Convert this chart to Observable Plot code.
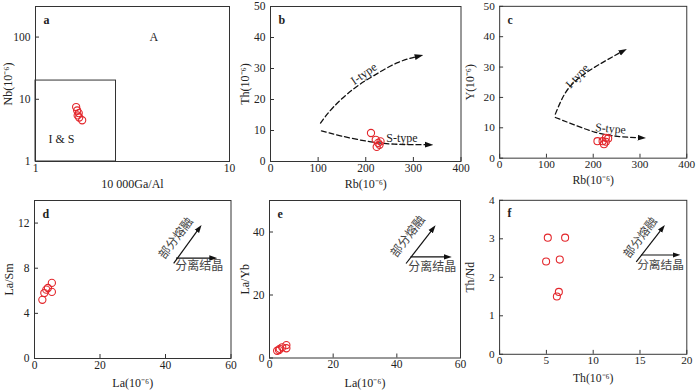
<!DOCTYPE html>
<html><head><meta charset="utf-8">
<script src="https://cdn.jsdelivr.net/npm/d3@7"></script>
<script src="https://cdn.jsdelivr.net/npm/@observablehq/plot@0.6"></script>
<style>
body{margin:0;background:#fff;}
#wrap{position:relative;width:700px;height:391px;overflow:hidden;background:#fff;}
.panel{position:absolute;}
.panel svg{overflow:visible;}
</style></head><body><div id="wrap"></div>
<script>
// ---------- Panel a: Nb vs 10000Ga/Al ----------
const aGaAl = [1.62, 1.64, 1.67, 1.65, 1.68, 1.74];
const aNb   = [7.5, 6.6, 6.0, 5.5, 5.1, 4.6];
const aFieldLabels = ["A", "I & S"];
const aFieldGaAl = [4.07, 1.36];
const aFieldNb = [100, 2.28];
const aBoundGaAl = [1, 2.6];
const aBoundNb = [1, 20];
const aXTicks = [1, 10];
const aYTicks = [1, 10, 100];

// ---------- Panel b: Th vs Rb ----------
const bRb = [211, 221, 226, 229, 231, 223];
const bTh = [9.2, 7.0, 6.0, 5.4, 6.5, 4.7];
const bITypeRb = [105, 133, 175, 218, 267, 312];
const bITypeTh = [12.4, 17.7, 23.5, 27.8, 31.9, 34.0];
const bSTypeRb = [107, 147, 204, 260, 333];
const bSTypeTh = [9.9, 8.3, 6.5, 5.6, 5.4];
const bTrendLabels = ["I-type", "S-type"];
const bTrendLabelRb = [196, 276];
const bTrendLabelTh = [28.3, 7.6];

// ---------- Panel c: Y vs Rb ----------
const cRb = [209, 220, 227, 232, 223, 227];
const cY  = [5.6, 5.6, 6.7, 6.5, 4.6, 5.4];
const cITypeRb = [119, 140, 168, 209, 264];
const cITypeY  = [14.5, 21.4, 26.2, 30.5, 35.3];
const cSTypeRb = [119, 154, 203, 251, 304];
const cSTypeY  = [13.4, 11.3, 8.6, 7.2, 6.7];
const cTrendLabels = ["I-type", "S-type"];
const cTrendLabelRb = [166, 237];
const cTrendLabelY = [27.0, 9.7];

const rbTicks = [0, 100, 200, 300, 400];
const fiftyTicks = [0, 10, 20, 30, 40, 50];

// ---------- Panel d: La/Sm vs La ----------
const dLa   = [2.4, 3.0, 3.6, 4.1, 5.3, 5.3];
const dLaSm = [5.2, 5.8, 6.1, 6.25, 6.7, 5.9];
const dPMx = [42.5, 50.3], dPMy = [8.43, 11.55];
const dFCx = [43.2, 54.6], dFCy = [8.9, 8.9];
const dYTicks = [0, 4, 8, 12];

// ---------- Panel e: La/Yb vs La ----------
const eLa   = [2.4, 3.0, 3.2, 4.0, 5.3, 5.3];
const eLaYb = [2.3, 2.5, 2.9, 3.4, 3.1, 4.1];
const ePMx = [42.9, 51.4], ePMy = [30.0, 41.1];
const eFCx = [44.3, 56.0], eFCy = [32.1, 32.1];
const eYTicks = [0, 20, 40];
const laTicks = [0, 20, 40, 60];

// ---------- Panel f: Th/Nd vs Th ----------
const fTh   = [5.15, 7.0, 4.97, 6.43, 6.33, 6.12];
const fThNd = [3.03, 3.03, 2.41, 2.46, 1.62, 1.50];
const fPMx = [14.6, 17.4], fPMy = [2.40, 3.28];
const fFCx = [15.1, 18.9], fFCy = [2.58, 2.58];
const fXTicks = [0, 5, 10, 15, 20];
const fYTicks = [0, 1, 2, 3, 4];

const pmLabel = "部分熔融";
const fcLabel = "分离结晶";
// label anchors [x, y] for 部分熔融 / 分离结晶
const dLabelX = [43.2, 50.3], dLabelY = [10.66, 8.19];
const eLabelX = [43.5, 51.1], eLabelY = [38.6, 28.9];
const fLabelX = [15.05, 17.2], fLabelY = [3.03, 2.31];

// ---------- styles ----------
const RED = "#e3262b";
const SERIF = "'Liberation Serif','Times New Roman',serif";
const CJK = "'Noto Sans CJK SC',sans-serif";
const zip = (xs, ys) => xs.map((x, i) => ({x, y: ys[i]}));

function dots(xs, ys) {
  return Plot.dot(zip(xs, ys), {x: "x", y: "y", r: 3.6, stroke: RED, strokeWidth: 1.1, fill: "none"});
}
function dashedCurve(xs, ys) {
  return Plot.line(zip(xs, ys), {x: "x", y: "y", curve: "natural", stroke: "#111", strokeWidth: 1.3, strokeDasharray: "5,3", markerEnd: "arrow"});
}
function trendArrows(pmx, pmy, fcx, fcy, lx, ly) {
  return [
    Plot.link([0], {x1: () => pmx[0], y1: () => pmy[0], x2: () => pmx[1], y2: () => pmy[1], stroke: "#111", strokeWidth: 1.2, markerEnd: "arrow"}),
    Plot.link([0], {x1: () => fcx[0], y1: () => fcy[0], x2: () => fcx[1], y2: () => fcy[1], stroke: "#111", strokeWidth: 1.2, markerEnd: "arrow"}),
    Plot.text([pmLabel], {x: () => lx[0], y: () => ly[0], text: d => d, rotate: -53, fontFamily: CJK, fontSize: 12, fill: "#444"}),
    Plot.text([fcLabel], {x: () => lx[1], y: () => ly[1], text: d => d, fontFamily: CJK, fontSize: 12, fill: "#444"})
  ];
}

const wrap = document.getElementById("wrap");
function panel(cfg) {
  const mL = 40, mR = 14, mT = 8, mB = 38;
  const [x0, x1, y0, y1] = cfg.frame;
  const width = x1 - x0 + mL + mR, height = y1 - y0 + mT + mB;
  const svg = Plot.plot({
    width, height, marginLeft: mL, marginRight: mR, marginTop: mT, marginBottom: mB,
    style: {fontFamily: SERIF, fontSize: "11.5px", color: "#222", background: "transparent", overflow: "visible"},
    x: {type: cfg.xType || "linear", domain: cfg.xDomain},
    y: {type: cfg.yType || "linear", domain: cfg.yDomain},
    marks: [
      Plot.frame({stroke: "#333"}),
      Plot.axisX({ticks: cfg.xTicks, tickSize: -4, tickPadding: 6, tickFormat: d => String(d), label: null, stroke: "#333"}),
      Plot.axisY({ticks: cfg.yTicks, tickSize: -4, tickPadding: 9, tickFormat: d => String(d), label: null, stroke: "#333"}),
      ...cfg.marks,
      Plot.text([cfg.xLabel], {text: d => d, frameAnchor: "bottom", textAnchor: "middle", lineAnchor: "middle", dy: cfg.xdy, fontSize: 12}),
      Plot.text([cfg.yLabel], {text: d => d, frameAnchor: "left", textAnchor: "middle", lineAnchor: "middle", dx: cfg.ydx, rotate: -90, fontSize: 12}),
      Plot.text([cfg.letter], {text: d => d, frameAnchor: "top-left", dx: 8, dy: 9, fontWeight: "bold", fontSize: 12})
    ]
  });
  // filled arrow heads
  svg.querySelectorAll("marker").forEach(m => {
    m.setAttribute("fill", "#111");
    m.setAttribute("stroke", "none");
    m.setAttribute("stroke-dasharray", "none");
    const p = m.querySelector("path");
    if (p) { p.setAttribute("d", "M-5,-3.4L5,0L-5,3.4Z"); p.setAttribute("stroke", "none"); }
  });
  const div = document.createElement("div");
  div.className = "panel";
  div.style.left = (x0 - mL) + "px";
  div.style.top = (y0 - mT) + "px";
  div.appendChild(svg);
  wrap.appendChild(div);
}

panel({
  frame: [34.5, 228.5, 5.5, 160.5], letter: "a",
  xType: "log", yType: "log", xDomain: [1, 10], yDomain: [1, 310],
  xTicks: aXTicks, yTicks: aYTicks,
  xLabel: "10 000Ga/Al", yLabel: "Nb(10⁻⁶)", xdy: 23, ydx: -27,
  marks: [
    Plot.rect([0], {x1: () => aBoundGaAl[0], x2: () => aBoundGaAl[1], y1: () => aBoundNb[0], y2: () => aBoundNb[1], fill: "none", stroke: "#333"}),
    Plot.text(aFieldLabels, {x: (d, i) => aFieldGaAl[i], y: (d, i) => aFieldNb[i], text: d => d, fontSize: 12}),
    dots(aGaAl, aNb)
  ]
});

panel({
  frame: [270, 460.5, 5.5, 160.5], letter: "b",
  xDomain: [0, 400], yDomain: [0, 50], xTicks: rbTicks, yTicks: fiftyTicks,
  xLabel: "Rb(10⁻⁶)", yLabel: "Th(10⁻⁶)", xdy: 23, ydx: -25,
  marks: [
    dashedCurve(bITypeRb, bITypeTh),
    dashedCurve(bSTypeRb, bSTypeTh),
    Plot.text(bTrendLabels, {x: (d, i) => bTrendLabelRb[i], y: (d, i) => bTrendLabelTh[i], text: d => d, rotate: (d, i) => i === 0 ? -35 : 0, fontSize: 12}),
    dots(bRb, bTh)
  ]
});

panel({
  frame: [500, 691, 5.5, 160.5], letter: "c",
  xDomain: [0, 400], yDomain: [0, 50], xTicks: rbTicks, yTicks: fiftyTicks,
  xLabel: "Rb(10⁻⁶)", yLabel: "Y(10⁻⁶)", xdy: 23, ydx: -30,
  marks: [
    dashedCurve(cITypeRb, cITypeY),
    dashedCurve(cSTypeRb, cSTypeY),
    Plot.text(cTrendLabels, {x: (d, i) => cTrendLabelRb[i], y: (d, i) => cTrendLabelY[i], text: d => d, rotate: (d, i) => i === 0 ? -47 : 5, fontSize: 12}),
    dots(cRb, cY)
  ]
});

panel({
  frame: [33.5, 230, 200, 358], letter: "d",
  xDomain: [0, 60], yDomain: [0, 14], xTicks: laTicks, yTicks: dYTicks,
  xLabel: "La(10⁻⁶)", yLabel: "La/Sm", xdy: 25, ydx: -25,
  marks: [...trendArrows(dPMx, dPMy, dFCx, dFCy, dLabelX, dLabelY), dots(dLa, dLaSm)]
});

panel({
  frame: [269, 460, 200, 357.5], letter: "e",
  xDomain: [0, 60], yDomain: [0, 50], xTicks: laTicks, yTicks: eYTicks,
  xLabel: "La(10⁻⁶)", yLabel: "La/Yb", xdy: 25, ydx: -24,
  marks: [...trendArrows(ePMx, ePMy, eFCx, eFCy, eLabelX, eLabelY), dots(eLa, eLaYb)]
});

panel({
  frame: [500, 691.5, 200, 357.5], letter: "f",
  xDomain: [0, 20], yDomain: [0, 4], xTicks: fXTicks, yTicks: fYTicks,
  xLabel: "Th(10⁻⁶)", yLabel: "Th/Nd", xdy: 25, ydx: -30,
  marks: [...trendArrows(fPMx, fPMy, fFCx, fFCy, fLabelX, fLabelY), dots(fTh, fThNd)]
});
</script></body></html>
